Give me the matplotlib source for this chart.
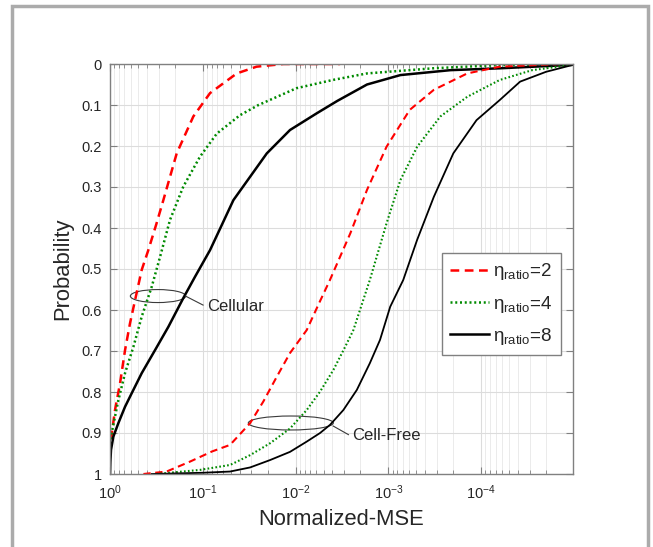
import numpy as np
import matplotlib
matplotlib.use("Agg")
import matplotlib.pyplot as plt
from matplotlib.patches import Ellipse, Rectangle
from matplotlib.lines import Line2D

plt.rcParams['font.family'] = ['Liberation Sans', 'DejaVu Sans']
plt.rcParams['mathtext.fontset'] = 'custom'
plt.rcParams['mathtext.rm'] = 'Liberation Sans'
plt.rcParams['mathtext.it'] = 'Liberation Sans:italic'
plt.rcParams['mathtext.bf'] = 'Liberation Sans:bold'

# datos: exponente log10(NMSE) y probabilidad
cel2_exp = [0, -0.02, -0.054, -0.108, -0.162, -0.216, -0.27, -0.342, -0.413, -0.5,
            -0.575, -0.719, -0.898, -1.078, -1.366, -1.58, -1.87, -2.48]
cel2_p = [0.95, 0.9, 0.844, 0.779, 0.698, 0.632, 0.576, 0.502, 0.454, 0.39,
          0.332, 0.218, 0.128, 0.071, 0.023, 0.0065, 0.0, 0.0]

cel4_exp = [0, -0.005, -0.018, -0.09, -0.162, -0.252, -0.342, -0.45, -0.54, -0.647,
            -0.79, -0.97, -1.15, -1.4, -1.6, -1.8, -2.01, -2.4, -2.77, -3.48, -4.2, -4.99]
cel4_p = [0.95, 0.93, 0.9, 0.82, 0.754, 0.69, 0.616, 0.543, 0.47, 0.38,
          0.299, 0.226, 0.17, 0.125, 0.1, 0.08, 0.059, 0.039, 0.023, 0.0105, 0.0025, 0.0]

cel8_exp = [0, -0.004, -0.011, -0.036, -0.09, -0.162, -0.234, -0.342, -0.485, -0.629,
            -0.79, -0.916, -1.078, -1.2, -1.33, -1.51, -1.69, -1.94, -2.23, -2.45,
            -2.77, -3.13, -3.67, -4.2, -4.99]
cel8_p = [1.0, 0.97, 0.941, 0.909, 0.876, 0.836, 0.803, 0.754, 0.698, 0.641,
          0.571, 0.519, 0.454, 0.395, 0.332, 0.275, 0.218, 0.161, 0.12, 0.09,
          0.05, 0.027, 0.015, 0.0105, 0.002]

cf2_exp = [-0.36, -0.61, -0.86, -1.1, -1.294, -1.51, -1.653, -1.797, -1.94, -2.12,
           -2.25, -2.37, -2.59, -2.77, -2.98, -3.23, -3.49, -3.85, -4.2, -4.85, -4.99]
cf2_p = [1.0, 0.994, 0.97, 0.945, 0.929, 0.876, 0.823, 0.763, 0.705, 0.649,
         0.585, 0.527, 0.413, 0.307, 0.202, 0.112, 0.063, 0.023, 0.0065, 0.0, 0.0]

cf4_exp = [-0.5, -0.97, -1.294, -1.51, -1.725, -1.94, -2.12, -2.264, -2.408, -2.534,
           -2.623, -2.80, -2.98, -3.13, -3.31, -3.56, -3.85, -4.2, -4.55, -4.99]
cf4_p = [1.0, 0.99, 0.978, 0.954, 0.925, 0.889, 0.844, 0.799, 0.746, 0.69,
         0.649, 0.527, 0.389, 0.283, 0.202, 0.128, 0.08, 0.039, 0.015, 0.002]

cf8_exp = [-0.45, -1.0, -1.294, -1.51, -1.725, -1.94, -2.12, -2.264, -2.372, -2.515,
           -2.66, -2.80, -2.91, -3.02, -3.16, -3.31, -3.49, -3.70, -3.95, -4.2,
           -4.42, -4.70, -4.99]
cf8_p = [1.0, 0.997, 0.994, 0.984, 0.966, 0.946, 0.921, 0.9, 0.88, 0.844,
         0.795, 0.73, 0.673, 0.592, 0.527, 0.429, 0.324, 0.218, 0.137, 0.088,
         0.043, 0.019, 0.002]

etiquetas = ['η$_{\\mathrm{ratio}}$=2', 'η$_{\\mathrm{ratio}}$=4', 'η$_{\\mathrm{ratio}}$=8']
xticks_val = [1, 1e-1, 1e-2, 1e-3, 1e-4]
xticks_lab = ['$10^{0}$', '$10^{-1}$', '$10^{-2}$', '$10^{-3}$', '$10^{-4}$']
yticks_val = [0, 0.1, 0.2, 0.3, 0.4, 0.5, 0.6, 0.7, 0.8, 0.9, 1]
yticks_lab = ['0', '0.1', '0.2', '0.3', '0.4', '0.5', '0.6', '0.7', '0.8', '0.9', '1']

rojo = '#ff0000'
verde = '#008a00'
negro = '#000000'
gris = '#808080'
txt = '#262626'

fig = plt.figure(figsize=(6.53, 5.47), dpi=100)
fig.patches.append(Rectangle((12/653, -0.05), 636/653, 1.05 - 6/547, transform=fig.transFigure,
                             fill=False, edgecolor='#ababab', linewidth=2.5))
ax = fig.add_axes([110/653, 1 - 474/547, 463/653, 410/547])

estilo_rojo = dict(color=rojo, linestyle=(0, (3.5, 2.2)))
estilo_verde = dict(color=verde, linestyle=(0, (0.8, 1.1)))
estilo_negro = dict(color=negro, linestyle='-')

# cellular (mas grueso)
ax.plot(10**np.array(cel2_exp), cel2_p, lw=1.8, **estilo_rojo)
ax.plot(10**np.array(cel4_exp), cel4_p, lw=1.8, **estilo_verde)
ax.plot(10**np.array(cel8_exp), cel8_p, lw=1.8, **estilo_negro)
# cell-free
ax.plot(10**np.array(cf2_exp), cf2_p, lw=1.5, **estilo_rojo)
ax.plot(10**np.array(cf4_exp), cf4_p, lw=1.5, **estilo_verde)
ax.plot(10**np.array(cf8_exp), cf8_p, lw=1.3, **estilo_negro)

ax.set_xscale('log')
ax.set_xlim(1, 10**-4.99)
ax.set_ylim(1, 0)
ax.set_xticks(xticks_val)
ax.set_xticklabels(xticks_lab)
ax.set_yticks(yticks_val)
ax.set_yticklabels(yticks_lab)

ax.grid(True, which='major', color='#dcdcdc', linewidth=0.8)
ax.grid(True, which='minor', axis='x', color='#e8e8e8', linewidth=0.6)
ax.set_axisbelow(True)
ax.tick_params(which='both', direction='in', top=True, right=True, colors=gris,
               labelcolor=txt, labelsize=10.5)
ax.tick_params(which='major', length=5, width=0.8)
ax.tick_params(which='minor', length=3, width=0.6)
ax.tick_params(axis='x', pad=7)
ax.tick_params(axis='y', pad=6)
for s in ax.spines.values():
    s.set_color(gris)
    s.set_linewidth(1.0)

ax.set_xlabel('Normalized-MSE', fontsize=15.8, color=txt, labelpad=5)
ax.set_ylabel('Probability', fontsize=15.8, color=txt, labelpad=6)

# anotaciones
ax.add_patch(Ellipse((0.1037, 0.434), 0.1195, 0.0317, transform=ax.transAxes,
                     fill=False, edgecolor='#3a3a3a', linewidth=0.8))
ax.plot([0.163, 0.201], [0.434, 0.412], transform=ax.transAxes, color='#3a3a3a', lw=0.8)
ax.text(0.209, 0.408, 'Cellular', transform=ax.transAxes, fontsize=12, color=txt,
        ha='left', va='center')

ax.add_patch(Ellipse((0.3905, 0.1244), 0.1836, 0.0341, transform=ax.transAxes,
                     fill=False, edgecolor='#3a3a3a', linewidth=0.8))
ax.plot([0.482, 0.515], [0.117, 0.096], transform=ax.transAxes, color='#3a3a3a', lw=0.8)
ax.text(0.522, 0.095, 'Cell-Free', transform=ax.transAxes, fontsize=12, color=txt,
        ha='left', va='center')

manejadores = [Line2D([], [], lw=1.8, **estilo_rojo),
               Line2D([], [], lw=1.8, **estilo_verde),
               Line2D([], [], lw=1.8, **estilo_negro)]
leg = ax.legend(manejadores, etiquetas, loc='upper right', bbox_to_anchor=(0.974, 0.539),
                borderaxespad=0, fontsize=13.5, handlelength=2.1, handletextpad=0.2,
                labelspacing=0.6, borderpad=0.45, fancybox=False, framealpha=1,
                edgecolor=gris)
leg.get_frame().set_linewidth(1.0)
for t in leg.get_texts():
    t.set_color(txt)

fig.savefig('out.png', dpi=100)
